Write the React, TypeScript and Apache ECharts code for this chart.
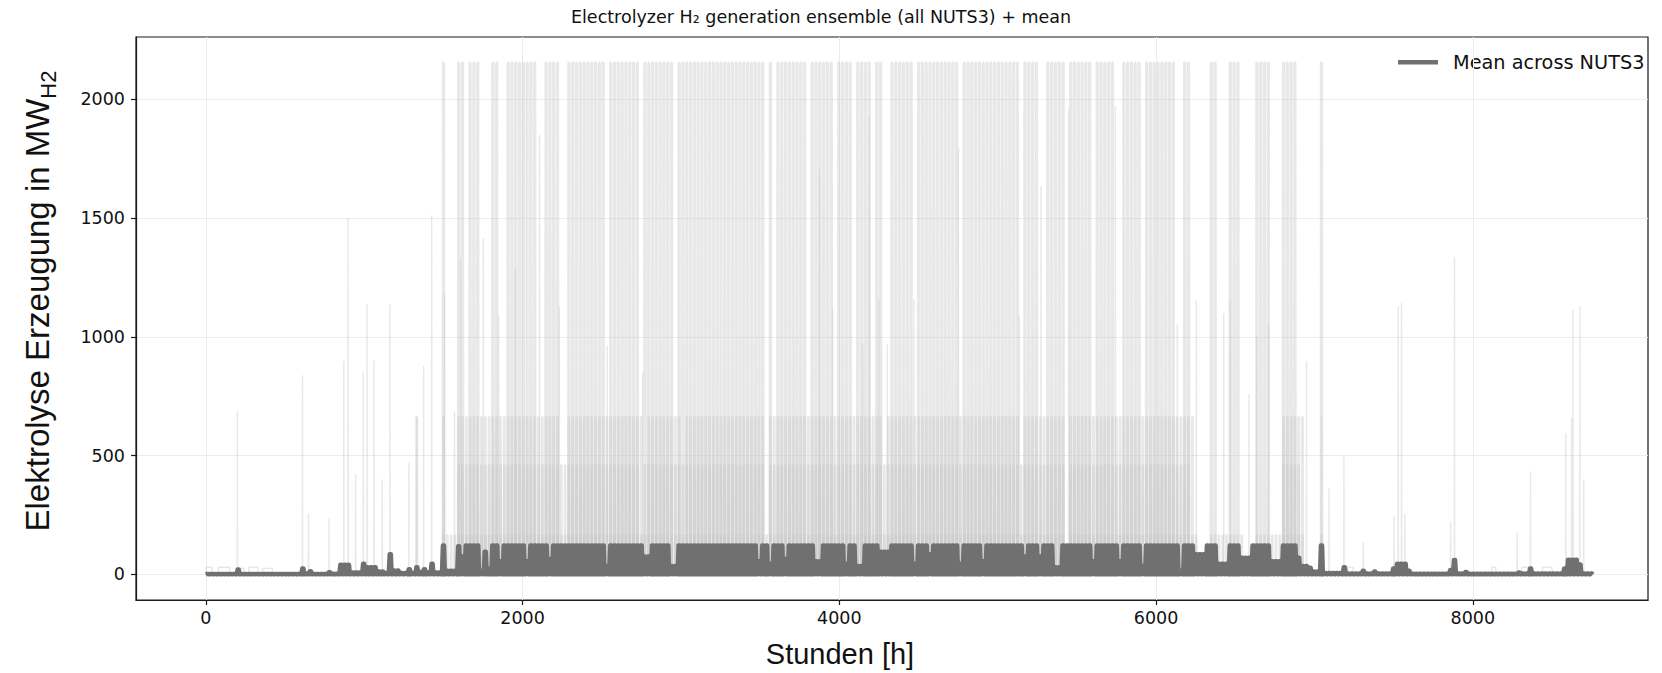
import React, { useEffect, useRef } from "react";
import * as echarts from "echarts";

// ---------------- axis setup ----------------
const xTicks = [0, 2000, 4000, 6000, 8000];
const yTicks = [0, 500, 1000, 1500, 2000];
const X_MIN = -441;
const X_MAX = 9106;
const Y_MIN = -108;
const Y_MAX = 2263;
const LAST_HOUR = 8759;

// ---------------- texts ----------------
const titleText = "Electrolyzer H\u2082 generation ensemble (all NUTS3) + mean";
const xLabelText = "Stunden [h]";
const yLabelMain = "Elektrolyse Erzeugung in MW";
const yLabelSub = "H2";
const legendText = "Mean across NUTS3";

// ---------------- mean across NUTS3: daily peak (MW) per day range [firstDay, lastDay, peak] ----------------
const meanSegments: [number, number, number][] = [
  [0, 7, 2], [8, 8, 20], [9, 24, 2], [25, 25, 25], [26, 26, 4], [27, 27, 13], [28, 31, 2], [32, 32, 9],
  [33, 34, 3], [35, 37, 40], [38, 40, 8], [41, 41, 45], [42, 44, 30], [45, 46, 12], [47, 47, 6], [48, 48, 85],
  [49, 50, 16], [51, 52, 6], [53, 53, 22], [54, 54, 6], [55, 55, 30], [56, 56, 10], [57, 57, 22], [58, 58, 8],
  [59, 59, 45], [60, 61, 8], [62, 62, 122], [63, 65, 15], [66, 66, 118], [67, 67, 75], [68, 71, 122], [72, 72, 15],
  [73, 73, 95], [74, 74, 25], [75, 76, 122], [77, 77, 55], [78, 83, 122], [84, 84, 55], [85, 89, 122], [90, 90, 65],
  [91, 104, 122], [105, 105, 35], [106, 114, 122], [115, 116, 75], [117, 121, 122], [122, 123, 35], [124, 144, 122],
  [145, 145, 55], [146, 147, 122], [148, 148, 45], [149, 151, 122], [152, 152, 65], [153, 159, 122], [160, 161, 55],
  [162, 167, 122], [168, 168, 45], [169, 170, 122], [171, 172, 35], [173, 176, 122], [177, 179, 95], [180, 185, 122],
  [186, 186, 45], [187, 189, 122], [190, 190, 85], [191, 197, 122], [198, 198, 45], [199, 203, 122], [204, 204, 55],
  [205, 214, 122], [215, 215, 75], [216, 218, 122], [219, 219, 75], [220, 222, 122], [223, 224, 30], [225, 232, 122],
  [233, 233, 55], [234, 239, 122], [240, 240, 55], [241, 245, 122], [246, 246, 35], [247, 255, 122], [256, 256, 15],
  [257, 259, 122], [260, 262, 85], [263, 265, 122], [266, 268, 45], [269, 271, 122], [272, 274, 70], [275, 279, 122],
  [280, 282, 55], [283, 286, 122], [287, 287, 70], [288, 289, 35], [290, 290, 28], [291, 292, 12], [293, 293, 122],
  [294, 298, 6], [299, 299, 30], [300, 303, 4], [304, 304, 15], [305, 306, 4], [307, 307, 12], [308, 311, 4],
  [312, 312, 25], [313, 315, 45], [316, 316, 15], [317, 326, 3], [327, 327, 18], [328, 328, 60], [329, 330, 4],
  [331, 331, 10], [332, 344, 3], [345, 345, 8], [346, 347, 4], [348, 348, 25], [349, 356, 4], [357, 357, 25],
  [358, 360, 62], [361, 361, 42], [362, 364, 4],
];

// ---------------- ensemble members (NUTS3 regions) ----------------
// region with the largest electrolyzer: running days [firstDay, lastDay], daily peak = its capacity
const bigRegionCap = 2155;
const bigRegionDays: [number, number][] = [
  [62, 62], [66, 67], [69, 71], [75, 76], [79, 86], [89, 92], [95, 104], [106, 113], [115, 122], [124, 146],
  [148, 148], [150, 157], [159, 164], [166, 169], [171, 174], [176, 177], [180, 185], [187, 197], [199, 213],
  [215, 218], [221, 225], [227, 227], [228, 232], [234, 238], [241, 245], [247, 254], [257, 258], [264, 265],
  [269, 271], [276, 279], [283, 286], [293, 293],
];
const regionBCap = 663;
const regionBDays: [number, number][] = [
  [55, 55], [62, 62], [66, 92], [95, 114], [116, 124], [126, 146], [148, 177], [179, 213], [215, 225], [227, 259], [283, 288],
];
const regionCCap = 460;
const regionCDays: [number, number][] = [
  [66, 113], [115, 146], [148, 225], [227, 258], [283, 287],
];
const regionDCap = 166;
const regionDDays: [number, number][] = [
  [62, 225], [227, 260], [264, 272], [276, 288], [293, 293],
];
// single-hour peaks of smaller regions: hour of year and MW
const spikeHoursA = [199, 610, 648, 778, 871, 898, 946, 994, 1018, 1061, 1114, 1162, 1282, 1330, 1375, 1426, 1507, 1570, 1608, 1752, 1848, 1954, 2107, 2232, 2534, 2758, 3874, 3958, 4147, 4188];
const spikeValuesA = [688, 838, 257, 234, 898, 1501, 421, 850, 1138, 900, 400, 1138, 470, 663, 880, 1511, 1180, 686, 1330, 1414, 1091, 1286, 1850, 1128, 964, 850, 1707, 1120, 973, 1933];
const spikeHoursB = [4248, 4303, 4471, 4752, 5136, 5273, 5448, 5743, 6134, 6254, 6427, 6468, 6586, 6636, 6710, 6950, 7044, 7092, 7186, 7308, 7502, 7529, 7550, 7570, 7860, 7884, 8280, 8364, 8587, 8623, 8633, 8676, 8700];
const spikeValuesB = [1157, 970, 1160, 1798, 1090, 1634, 1962, 1970, 1053, 1154, 1100, 1150, 760, 1002, 1053, 897, 670, 362, 497, 135, 248, 1128, 1143, 255, 220, 1336, 175, 434, 594, 659, 1113, 1128, 400];
// small regions running for several days at low output: [startHour, endHour, MW]
const smallBlocks: [number, number, number][] = [
  [0, 40, 30], [80, 150, 30], [190, 240, 25], [270, 330, 30], [360, 420, 25],
  [7210, 7245, 30], [7490, 7500, 30], [8120, 8145, 30], [8310, 8370, 30], [8440, 8500, 30],
];

// ---------------- builders ----------------
function dailyRun(days: [number, number][], cap: number): number[][] {
  const pts: number[][] = [[0, 0]];
  for (const [a, b] of days) {
    for (let d = a; d <= b; d++) {
      const h = d * 24;
      pts.push([h + 8, 0], [h + 9, cap], [h + 16, cap], [h + 17, 0]);
    }
  }
  pts.push([LAST_HOUR, 0]);
  return pts;
}
function meanRun(): number[][] {
  const pts: number[][] = [[0, 0]];
  for (const [a, b, p] of meanSegments) {
    for (let d = a; d <= b; d++) {
      const h = d * 24;
      pts.push([h + 3, 0], [h + 9, p], [h + 16, p], [h + 21, 0]);
    }
  }
  pts.push([LAST_HOUR, 0]);
  return pts;
}
function spikeRun(hours: number[], values: number[]): number[][] {
  const pts: number[][] = [[0, 0]];
  hours.forEach((h, i) => pts.push([h - 1, 0], [h, values[i]], [h + 1, 0]));
  pts.push([LAST_HOUR, 0]);
  return pts;
}
function blockRun(blocks: [number, number, number][]): number[][] {
  const pts: number[][] = [[0, 0]];
  for (const [s, e, v] of blocks) pts.push([s, 0], [s, v], [e, v], [e, 0]);
  pts.push([LAST_HOUR, 0]);
  return pts;
}

const ENS_COLOR = "#c8c8c8";
const TXT = "#111111";
const FONT = "DejaVu Sans";

function ensembleSeries(name: string, data: number[][], width: number) {
  return {
    name,
    type: "line",
    data,
    symbol: "none",
    showSymbol: false,
    silent: true,
    z: 2,
    lineStyle: { color: ENS_COLOR, width, opacity: 0.42 },
  };
}

export default function App() {
  const ref = useRef<HTMLDivElement>(null);
  useEffect(() => {
    if (!ref.current) return;
    const chart = echarts.init(ref.current, undefined, { renderer: "svg" });
    const plain = (v: number) => String(v);
    const option = {
      animation: false,
      backgroundColor: "#ffffff",
      grid: {
        left: 136, right: 14, top: 37, bottom: 73,
        show: true, borderColor: "#1a1a1a", borderWidth: 1.2, backgroundColor: "transparent",
      },
      xAxis: {
        type: "value", min: X_MIN, max: X_MAX,
        axisLine: { show: true, onZero: false, lineStyle: { color: "#1a1a1a", width: 1.2 } },
        axisTick: { show: true, customValues: xTicks, length: 5, lineStyle: { color: "#1a1a1a", width: 1.2 } },
        axisLabel: { customValues: xTicks, formatter: plain, margin: 9, fontSize: 17.5, fontFamily: FONT, color: TXT },
        splitLine: { show: true, lineStyle: { color: "#ececec", width: 1 } },
      },
      yAxis: {
        type: "value", min: Y_MIN, max: Y_MAX,
        axisLine: { show: true, onZero: false, lineStyle: { color: "#1a1a1a", width: 1.2 } },
        axisTick: { show: true, customValues: yTicks, length: 5, lineStyle: { color: "#1a1a1a", width: 1.2 } },
        axisLabel: { customValues: yTicks, formatter: plain, margin: 11, fontSize: 17.5, fontFamily: FONT, color: TXT },
        splitLine: { show: true, lineStyle: { color: "#ececec", width: 1 } },
      },
      series: [
        ensembleSeries("Region big", dailyRun(bigRegionDays, bigRegionCap), 2.2),
        ensembleSeries("Region B", dailyRun(regionBDays, regionBCap), 1.8),
        ensembleSeries("Region C", dailyRun(regionCDays, regionCCap), 1.6),
        ensembleSeries("Region D", dailyRun(regionDDays, regionDCap), 1.6),
        ensembleSeries("Spikes A", spikeRun(spikeHoursA, spikeValuesA), 1.4),
        ensembleSeries("Spikes B", spikeRun(spikeHoursB, spikeValuesB), 1.4),
        ensembleSeries("Small", blockRun(smallBlocks), 1.4),
        {
          name: legendText,
          type: "line",
          data: meanRun(),
          symbol: "none",
          showSymbol: false,
          silent: true,
          z: 5,
          lineStyle: { color: "#707070", width: 4.5, join: "round" },
        },
      ],
      graphic: [
        {
          type: "text", x: 821, y: 17,
          style: { text: titleText, fontSize: 17.5, fontFamily: FONT, fill: TXT, textAlign: "center", textVerticalAlign: "middle" },
        },
        {
          type: "text", x: 840, y: 654,
          style: { text: xLabelText, fontSize: 29, fontFamily: "Liberation Sans", fill: TXT, textAlign: "center", textVerticalAlign: "middle" },
        },
        {
          type: "text", x: 37, y: 301, rotation: Math.PI / 2,
          style: {
            text: `{a|${yLabelMain}}{b|${yLabelSub}}`,
            textAlign: "center", textVerticalAlign: "middle", fill: TXT,
            rich: {
              a: { fontSize: 33, fontFamily: "Liberation Sans", lineHeight: 44, fill: TXT },
              b: { fontSize: 22, fontFamily: "Liberation Sans", lineHeight: 22, verticalAlign: "bottom", fill: TXT },
            },
          },
        },
        { type: "rect", shape: { x: 1398, y: 60, width: 40, height: 4.5 }, style: { fill: "#707070" } },
        {
          type: "text", x: 1453, y: 62.5,
          style: { text: legendText, fontSize: 19.3, fontFamily: FONT, fill: TXT, textAlign: "left", textVerticalAlign: "middle" },
        },
      ],
    };
    chart.setOption(option as any);
    return () => chart.dispose();
  }, []);
  return (
    <div
      ref={ref}
      style={{ position: "fixed", left: 0, top: 0, width: 1662, height: 673, background: "#fff" }}
    />
  );
}
